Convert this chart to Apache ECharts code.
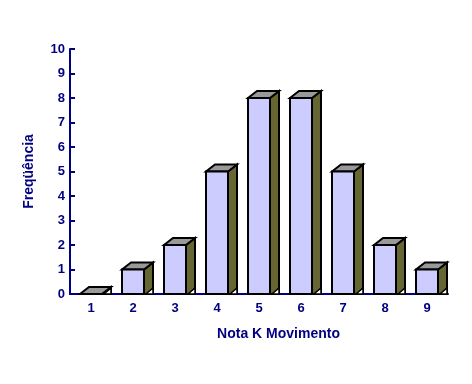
<!DOCTYPE html>
<html><head><meta charset="utf-8">
<script src="https://cdn.jsdelivr.net/npm/echarts@6/dist/echarts.min.js"></script>
<style>html,body{margin:0;padding:0;background:#fff}#c{width:472px;height:384px}</style>
</head><body><div id="c"></div>
<script>
var categories = ['1','2','3','4','5','6','7','8','9'];
var frequencies = [0,1,2,5,8,8,5,2,1];
var yTicks = [0,1,2,3,4,5,6,7,8,9,10];
var xTitle = 'Nota K Movimento';
var yTitle = 'Freqüência';

var chart = echarts.init(document.getElementById('c'), null, {renderer:'canvas'});
var navy = '#000080';
var font = 'Liberation Sans, Arial, sans-serif';
chart.setOption({
  animation: false,
  backgroundColor: '#fff',
  grid: {left: 70, right: 24, top: 49, bottom: 90},
  xAxis: {
    type: 'category', data: categories, boundaryGap: true,
    axisLine: {lineStyle: {color: navy, width: 2}},
    axisTick: {show: false},
    axisLabel: {color: navy, fontWeight: 'bold', fontSize: 13, fontFamily: font, margin: 8},
    name: xTitle, nameLocation: 'middle', nameGap: 33,
    nameTextStyle: {color: navy, fontWeight: 'bold', fontSize: 14, fontFamily: font, padding: [0,0,0,39]}
  },
  yAxis: {
    type: 'value', min: yTicks[0], max: yTicks[yTicks.length-1], interval: 1,
    axisLine: {show: true, lineStyle: {color: navy, width: 2}},
    axisTick: {show: true, inside: true, length: 5, lineStyle: {color: navy, width: 2}},
    splitLine: {show: false},
    axisLabel: {color: navy, fontWeight: 'bold', fontSize: 13, fontFamily: font, margin: 5},
    name: yTitle, nameLocation: 'middle', nameGap: 34, nameRotate: 90,
    nameTextStyle: {color: navy, fontWeight: 'bold', fontSize: 14, fontFamily: font}
  },
  series: [{
    type: 'custom',
    data: frequencies.map(function(v,i){return [i, v];}),
    encode: {x: 0, y: 1},
    z: 5,
    renderItem: function(params, api){
      var i = api.value(0), v = api.value(1);
      var top = api.coord([i, v]);
      var base = api.coord([i, 0]);
      var cx = top[0], yv = top[1], y0 = base[1];
      var hw = 11, dx = 9, dy = 7;
      var st = {stroke: '#000', lineWidth: 2, lineJoin: 'miter'};
      var children = [];
      children.push({type:'polygon', shape:{points:[[cx+hw,yv],[cx+hw+dx,yv-dy],[cx+hw+dx,y0],[cx+hw,y0]]},
        style: Object.assign({fill:'#666633'}, st)});
      children.push({type:'polygon', shape:{points:[[cx+hw+2,y0],[cx+hw+dx,y0-6],[cx+hw+dx,y0]]},
        style: {fill:'#fff', stroke:'#000', lineWidth:1.5}});
      children.push({type:'polygon', shape:{points:[[cx-hw,yv],[cx-hw+dx,yv-dy],[cx+hw+dx,yv-dy],[cx+hw,yv]]},
        style: Object.assign({fill:'#999999'}, st)});
      if (y0 - yv > 0) {
        children.push({type:'rect', shape:{x:cx-hw, y:yv, width:2*hw, height:y0-yv},
          style: Object.assign({fill:'#ccccff'}, st)});
      }
      return {type:'group', children: children};
    }
  }]
});
</script>
</body></html>
